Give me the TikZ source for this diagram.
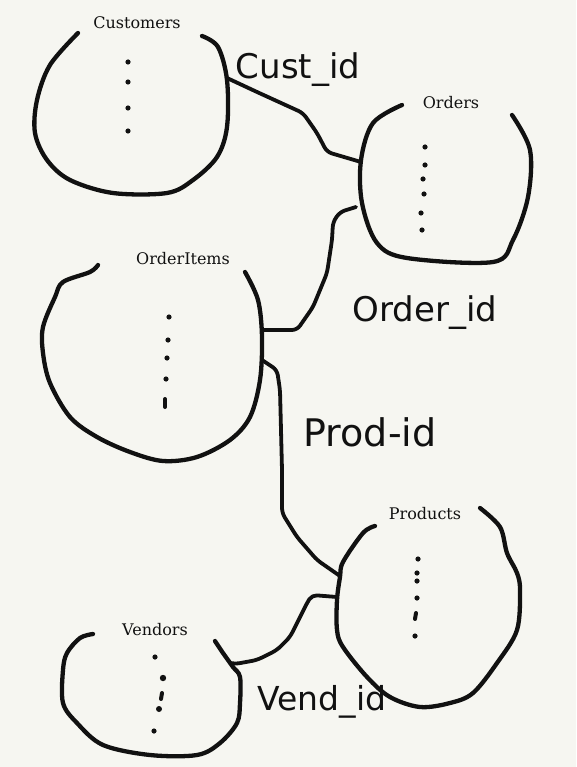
\documentclass[tikz,border=0pt]{standalone}
\usepackage{fontspec}
\setmainfont{DejaVu Serif}
\newfontfamily\handfont{DejaVu Sans}
\definecolor{paper}{HTML}{F6F6F1}
\definecolor{ink}{HTML}{111111}
\tikzset{
  outline/.style={draw=ink, line width=4.3pt, line cap=round, line join=round},
  conn/.style={draw=ink, line width=3.8pt, line cap=round, line join=round, rounded corners=5pt},
  tablename/.style={font=\fontsize{16}{16}\selectfont, inner sep=0pt, text=ink},
  keylabel/.style={font=\handfont\fontsize{34}{34}\selectfont, inner sep=0pt, text=ink},
  rowdash/.style={draw=ink, line width=4pt, line cap=round}
}
\begin{document}
\begin{tikzpicture}[x=1pt,y=-1pt]
\fill[paper] (0,0) rectangle (576,767);
\useasboundingbox (0,0) rectangle (576,767);

% ---------- Customers ----------
\draw[outline] plot[smooth, tension=0.55] coordinates {(78,33) (50,65) (37,100) (35,133) (47,160) (70,180) (113,193) (167,193) (193,180) (217,157) (227,127) (227,80) (218,47) (202,36)};
\node[tablename] (customers) at (137,23) {Customers};
\foreach \y in {62,82,108,131} \fill[ink] (128,\y) circle[radius=2.6pt];
\coordinate (custR) at (227,78);

% ---------- Orders ----------
\draw[outline] plot[smooth, tension=0.55] coordinates {(402,105) (373,123) (361,160) (362,203) (377,243) (407,258) (493,262) (513,240) (528,197) (530,150) (512,115)};
\node[tablename] (orders) at (451,103) {Orders};
\foreach \x/\y in {425/147,425/165,423/179,424/194,421/213,422/230} \fill[ink] (\x,\y) circle[radius=2.6pt];
\coordinate (ordL1) at (361,162);
\coordinate (ordL2) at (356,207);

% ---------- OrderItems ----------
\draw[outline] plot[smooth, tension=0.55] coordinates {(98,265) (90,272) (63,282) (55,297) (43,327) (43,353) (50,383) (70,417) (97,437) (130,452) (163,461) (197,457) (230,440) (250,417) (260,380) (262,337) (258,300) (245,272)};
\node[tablename] (orderitems) at (183,259) {OrderItems};
\foreach \x/\y in {169/317,168/340,167/358,166/379} \fill[ink] (\x,\y) circle[radius=2.6pt];
\draw[rowdash] (165,399) -- (165,407);
\coordinate (oiR1) at (262,330);
\coordinate (oiR2) at (262,360);

% ---------- Products ----------
\draw[outline] plot[smooth, tension=0.55] coordinates {(375,526) (363,533) (343,562) (340,577) (337,600) (337,630) (343,647) (367,677) (390,697) (420,707) (450,703) (473,693) (497,663) (517,630) (520,590) (517,573) (507,553) (500,527) (480,508)};
\node[tablename] (products) at (425,514) {Products};
\foreach \x/\y in {418/559,417/573,417/581,417/598,415/636} \fill[ink] (\x,\y) circle[radius=2.6pt];
\draw[rowdash] (416,613) -- (415,619);
\coordinate (prL1) at (340,576);
\coordinate (prL2) at (337,597);

% ---------- Vendors ----------
\draw[outline] plot[smooth, tension=0.55] coordinates {(93,634) (80,638) (67,653) (63,670) (63,703) (77,723) (103,745) (150,755) (197,755) (220,743) (237,723) (240,703) (240,677) (233,667) (223,653) (215,641)};
\node[tablename] (vendors) at (155,630) {Vendors};
\fill[ink] (155,657) circle[radius=2.6pt];
\fill[ink] (163,678) circle[radius=3.2pt];
\draw[rowdash] (162,693) -- (161,699);
\fill[ink] (159,709) circle[radius=3pt];
\fill[ink] (154,731) circle[radius=2.6pt];
\coordinate (venR) at (230,663);

% ---------- connectors ----------
\draw[conn] (custR) -- (257,92) -- (303,113) -- (317,133) -- (327,152) -- (ordL1);
\draw[conn] (oiR1) -- (297,330) -- (313,307) -- (327,273) -- (332,240) -- (333,222) -- (340,212) -- (ordL2);
\draw[conn] (oiR2) -- (277,370) -- (280,390) -- (282,470) -- (282,513) -- (297,537) -- (317,560) -- (prL1);
\draw[conn] (prL2) -- (312,595) -- (307,603) -- (290,637) -- (277,650) -- (257,660) -- (235,664) -- (venR);

% ---------- key labels ----------
\node[keylabel] (custid) at (298,70) {Cust\_id};
\node[keylabel] (orderid) at (425,313) {Order\_id};
\node[keylabel, font=\handfont\fontsize{38}{38}\selectfont] (prodid) at (370,432) {Prod-id};
\node[keylabel, font=\handfont\fontsize{33}{33}\selectfont] (vendid) at (322,702) {Vend\_id};
\end{tikzpicture}
\end{document}
